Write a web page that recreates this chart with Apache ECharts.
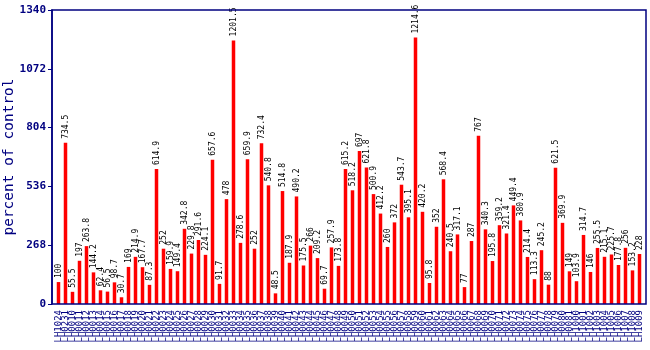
<!DOCTYPE html>
<html>
<head>
<meta charset="utf-8">
<script src="https://cdn.jsdelivr.net/npm/echarts@6/dist/echarts.min.js"></script>
<style>
  html, body { margin: 0; padding: 0; background: #ffffff; }
  #chart { width: 650px; height: 350px; }
</style>
</head>
<body>
<div id="chart"></div>
<script>
// Sample identifiers along the x axis
const samples = [
  "LH1024", "LH0231", "LH0010", "LH0011", "LH0012", "LH0013", "LH0014", "LH0015",
  "LH0016", "LH0017", "LH0018", "LH0019", "LH0020", "LH0021", "LH0022", "LH0023",
  "LH0024", "LH0025", "LH0026", "LH0027", "LH0028", "LH0029", "LH0030", "LH0031",
  "LH0032", "LH0033", "LH0034", "LH0035", "LH0036", "LH0037", "LH0038", "LH0039",
  "LH0040", "LH0041", "LH0042", "LH0043", "LH0044", "LH0045", "LH0046", "LH0047",
  "LH0048", "LH0049", "LH0050", "LH0051", "LH0052", "LH0053", "LH0054", "LH0055",
  "LH0056", "LH0057", "LH0058", "LH0059", "LH0060", "LH0061", "LH0062", "LH0063",
  "LH0064", "LH0065", "LH0066", "LH0067", "LH0068", "LH0069", "LH0070", "LH0071",
  "LH0072", "LH0073", "LH0074", "LH0075", "LH0076", "LH0077", "LH0078", "LH0079",
  "LH0080", "LH0081", "LH1000", "LH1001", "LH1002", "LH1003", "LH1004", "LH1005",
  "LH1006", "LH1007", "LH1008", "LH1009"
];

// Expression as percent of control
const percentOfControl = [
  100, 734.5, 55.5, 197, 263.8, 144.2, 62.4, 56.5, 98.7, 30.7,
  169, 214.9, 167.7, 87.3, 614.9, 252, 159.9, 149.4, 342.8, 229.8,
  291.6, 224.1, 657.6, 91.7, 478, 1201.5, 278.6, 659.9, 252, 732.4,
  540.8, 48.5, 514.8, 187.9, 490.2, 175.5, 266, 209.2, 69.7, 257.9,
  173.8, 615.2, 518.2, 697, 621.8, 500.9, 412.2, 260, 372, 543.7,
  395.1, 1214.6, 420.2, 95.8, 352, 568.4, 240.5, 317.1, 77, 287,
  767, 340.3, 195.8, 359.2, 321.4, 449.4, 380.9, 214.4, 113.3, 245.2,
  88, 621.5, 369.9, 149, 103.9, 314.7, 146, 255.5, 215.1, 225.7,
  177.8, 256, 153.2, 228
];

// Value axis range
const yMin = 0;
const yMax = 1340;
const yStep = 268;

const navy = '#000080';
const mono = '"DejaVu Sans Mono", "Liberation Mono", monospace';

const chart = echarts.init(document.getElementById('chart'), null, { renderer: 'canvas' });

chart.setOption({
  animation: false,
  backgroundColor: '#ffffff',
  grid: {
    left: 55, right: 7, top: 10, bottom: 46,
    containLabel: false,
    outerBoundsMode: 'none'
  },
  graphic: [{
    type: 'rect',
    shape: { x: 52, y: 10, width: 594, height: 294 },
    style: { fill: 'none', stroke: navy, lineWidth: 1.5 },
    silent: true,
    z: 10
  }],
  xAxis: {
    type: 'category',
    data: samples,
    boundaryGap: true,
    axisLine: { show: false },
    axisTick: { show: false },
    axisLabel: {
      interval: 0,
      rotate: 90,
      margin: 6,
      fontSize: 9,
      fontFamily: mono,
      color: navy
    },
    splitLine: { show: false }
  },
  yAxis: {
    type: 'value',
    min: yMin,
    max: yMax,
    interval: yStep,
    offset: 3,
    name: 'percent of control',
    nameLocation: 'middle',
    nameGap: 35,
    nameMoveOverlap: false,
    nameTextStyle: { fontFamily: mono, fontSize: 14.5, color: navy },
    axisLine: { show: true, lineStyle: { color: navy, width: 1.5 } },
    axisTick: { show: true, length: 4, lineStyle: { color: navy } },
    axisLabel: {
      fontFamily: mono,
      fontSize: 11,
      fontWeight: 'bold',
      color: navy,
      margin: 6,
      formatter: v => String(v)
    },
    splitLine: { show: false }
  },
  series: [{
    type: 'bar',
    data: percentOfControl,
    barWidth: 3.5,
    itemStyle: { color: '#ff0000' },
    label: {
      show: true,
      position: 'top',
      rotate: 90,
      align: 'left',
      verticalAlign: 'middle',
      distance: 4,
      fontFamily: mono,
      fontSize: 8,
      color: '#000000',
      formatter: p => String(p.value)
    }
  }]
});
</script>
</body>
</html>
